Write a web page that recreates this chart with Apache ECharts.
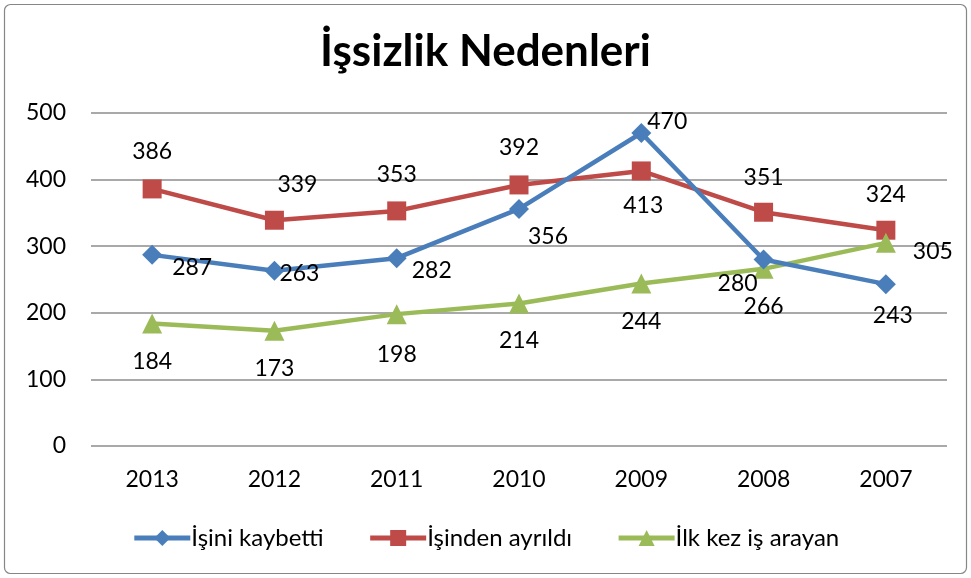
<!DOCTYPE html>
<html>
<head>
<meta charset="utf-8">
<script src="https://cdn.jsdelivr.net/npm/echarts@6/dist/echarts.min.js"></script>
<style>
  html, body { margin: 0; padding: 0; background: #fff; }
  #chart { width: 971px; height: 578px; }
</style>
</head>
<body>
<div id="chart"></div>
<script>
// veriler
const years = ['2013', '2012', '2011', '2010', '2009', '2008', '2007']
const isiniKaybetti = [287, 263, 282, 356, 470, 280, 243]
const isindenAyrildi = [386, 339, 353, 392, 413, 351, 324]
const ilkKezIsArayan = [184, 173, 198, 214, 244, 266, 305]
const seriesNames = ['İşini kaybetti', 'İşinden ayrıldı', 'İlk kez iş arayan']

// etiket kaydırmaları (sadece görünüm)
const blueOffsets = [[40, 13], [25, 3], [35, 12], [29, 28], [26, -11], [-26, 24], [7, 31]]
const redOffsets = [[0, -37], [23, -36], [0, -36], [0, -37], [2, 35], [0, -35], [0, -36]]
const greenOffsets = [[0, 38], [0, 38], [0, 40], [0, 37], [0, 38], [0, 38], [47, 9]]

const font = 'Lato, "Open Sans", sans-serif'

function withLabels (values, offsets) {
  return values.map((v, i) => ({
    value: v,
    label: { offset: offsets[i] }
  }))
}

function lineSeries (name, values, offsets, color, symbol, size) {
  return {
    name: name,
    type: 'line',
    symbol: symbol,
    symbolSize: size,
    itemStyle: { color: color },
    lineStyle: { color: color, width: 4.5 },
    label: {
      show: true,
      position: 'inside',
      color: '#000',
      fontFamily: font,
      fontSize: 23
    },
    z: name === seriesNames[0] ? 4 : 3,
    data: withLabels(values, offsets)
  }
}

const chart = echarts.init(document.getElementById('chart'))
chart.setOption({
  animation: false,
  title: {
    text: 'İşsizlik Nedenleri',
    left: 'center',
    top: 25,
    textStyle: {
      fontFamily: font,
      fontSize: 44,
      fontWeight: 'bold',
      color: '#000'
    }
  },
  graphic: [{
    type: 'rect',
    shape: { x: 4.5, y: 4.5, width: 962, height: 569, r: 6 },
    style: { fill: 'none', stroke: '#868686', lineWidth: 1.2 },
    silent: true
  }],
  grid: {
    left: 91,
    right: 24,
    top: 113,
    bottom: 132
  },
  legend: {
    top: 521,
    left: 'center',
    itemWidth: 56,
    itemHeight: 20,
    itemGap: 44,
    lineStyle: { width: 5 },
    textStyle: {
      fontFamily: font,
      fontSize: 24,
      color: '#000',
      padding: [0, 0, 0, -4]
    },
    data: seriesNames
  },
  xAxis: {
    type: 'category',
    data: years,
    boundaryGap: true,
    axisLine: { show: false },
    axisTick: { show: false },
    axisLabel: {
      color: '#000',
      fontFamily: font,
      fontSize: 23,
      margin: 22
    }
  },
  yAxis: {
    type: 'value',
    min: 0,
    max: 500,
    interval: 100,
    axisLine: { show: false },
    axisTick: { show: false },
    axisLabel: {
      color: '#000',
      fontFamily: font,
      fontSize: 23,
      margin: 25
    },
    splitLine: {
      lineStyle: { color: '#8c8c8c', width: 1.5 }
    }
  },
  series: [
    lineSeries(seriesNames[0], isiniKaybetti, blueOffsets, '#4A7EBB', 'diamond', 20),
    lineSeries(seriesNames[1], isindenAyrildi, redOffsets, '#BE4B48', 'rect', 19),
    lineSeries(seriesNames[2], ilkKezIsArayan, greenOffsets, '#9BBB59', 'triangle', 20)
  ]
})
</script>
</body>
</html>
